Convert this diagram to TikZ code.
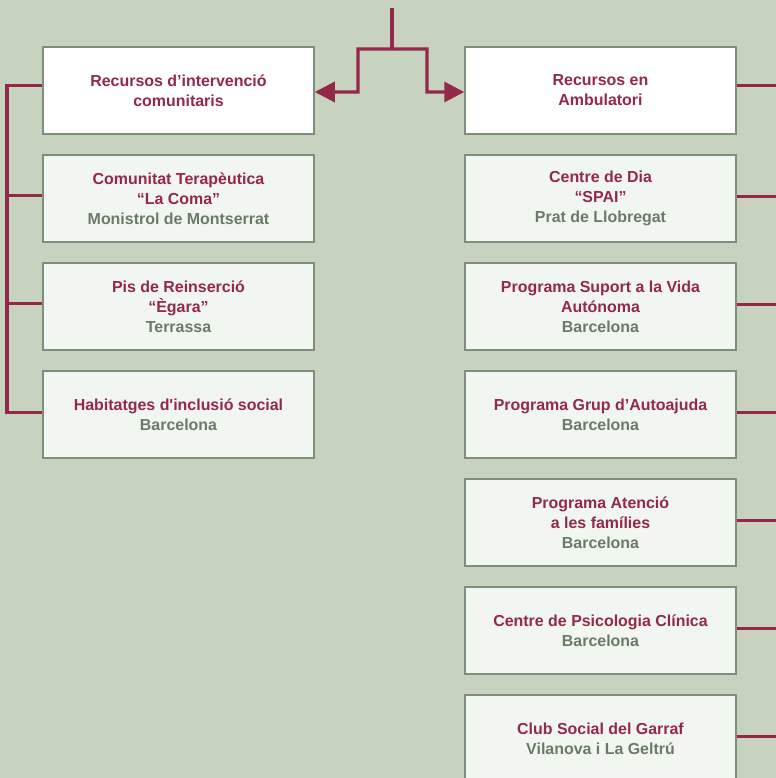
\documentclass[tikz,border=0pt]{standalone}
\usepackage{fontspec}
\setmainfont{Liberation Sans}
\usetikzlibrary{arrows.meta,calc}
\definecolor{BackClr}{HTML}{C8D3BF}
\definecolor{BoxClr}{HTML}{F2F6F0}
\definecolor{EdgeClr}{HTML}{7E8E7C}
\definecolor{LineClr}{HTML}{942848}
\definecolor{PlaceClr}{HTML}{6B7A68}

\begin{document}
\begin{tikzpicture}[x=1bp,y=-1bp,
  box/.style={draw=EdgeClr,line width=1.5bp,fill=BoxClr,minimum width=271bp,
    minimum height=87bp,inner sep=0pt,align=center,text=LineClr,
    font=\fontsize{16}{20}\bfseries\selectfont},
  headbox/.style={box,fill=white},
  link/.style={draw=LineClr,line width=3.2bp}]
\useasboundingbox[fill=BackClr] (0,0) rectangle (776,778);

% left column
\node[headbox] (H1) at (178.5,90.5) {Recursos d’intervenció\\comunitaris};
\node[box] (L1) at (178.5,198.5) {Comunitat Terapèutica\\“La Coma”\\\textcolor{PlaceClr}{Monistrol de Montserrat}};
\node[box] (L2) at (178.5,306.5) {Pis de Reinserció\\“Ègara”\\\textcolor{PlaceClr}{Terrassa}};
\node[box] (L3) at (178.5,414.5) {Habitatges d\textquotesingle inclusió social\\\textcolor{PlaceClr}{Barcelona}};

% right column
\node[headbox] (H2) at (600.5,90.5) {Recursos en\\Ambulatori};
\node[box] (R1) at (600.5,198.5) {Centre de Dia\\“SPAI”\\\textcolor{PlaceClr}{Prat de Llobregat}};
\node[box] (R2) at (600.5,306.5) {Programa Suport a la Vida\\Autónoma\\\textcolor{PlaceClr}{Barcelona}};
\node[box] (R3) at (600.5,414.5) {Programa Grup d’Autoajuda\\\textcolor{PlaceClr}{Barcelona}};
\node[box] (R4) at (600.5,522.5) {Programa Atenció\\a les famílies\\\textcolor{PlaceClr}{Barcelona}};
\node[box] (R5) at (600.5,630.5) {Centre de Psicologia Clínica\\\textcolor{PlaceClr}{Barcelona}};
\node[box] (R6) at (600.5,738.5) {Club Social del Garraf\\\textcolor{PlaceClr}{Vilanova i La Geltrú}};

% connectors
\coordinate (top) at (392,8);
\coordinate (split) at (392,49);
\coordinate (ltrunk) at (7,0);
\coordinate (redge) at (776,0);
\coordinate (lend) at ([yshift=2]L3.west);

\draw[link] (top) -- (split);
\draw[link,-{Triangle[length=20bp,width=20bp]}] (split) -| (358,92) -- ([yshift=-1.5]H1.east);
\draw[link,-{Triangle[length=20bp,width=20bp]}] (split) -| (427,92) -- ([yshift=-1.5]H2.west);

\draw[link] ([yshift=5]H1.west) -| (ltrunk |- lend) -- (lend);
\foreach \n in {L1,L2}
  \draw[link] ([yshift=3]\n.west) -- ([yshift=3]\n.west -| ltrunk);

\draw[link] ([yshift=5]H2.east) -- ([yshift=5]H2.east -| redge);
\foreach \n in {R1,R2,R3,R4,R5,R6}
  \draw[link] ([yshift=2]\n.east) -- ([yshift=2]\n.east -| redge);

\end{tikzpicture}
\end{document}
